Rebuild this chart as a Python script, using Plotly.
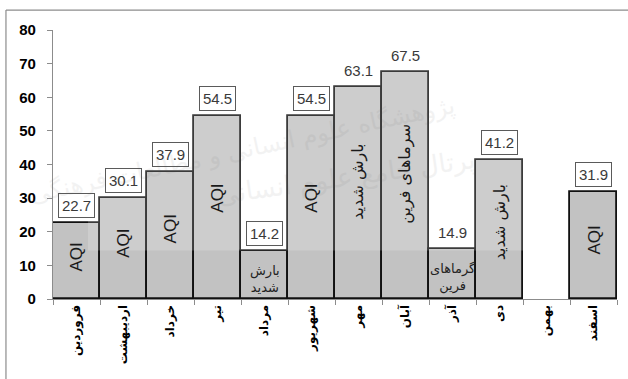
import plotly.graph_objects as go

# Monthly values (Persian calendar months)
months = ["فروردین", "اردیبهشت", "خرداد", "تیر", "مرداد", "شهریور",
          "مهر", "آبان", "آذر", "دی", "بهمن", "اسفند"]
values = [22.7, 30.1, 37.9, 54.5, 14.2, 54.5, 63.1, 67.5, 14.9, 41.2, None, 31.9]
# Cause written inside each bar
causes = ["AQI", "AQI", "AQI", "AQI", "بارش<br>شدید", "AQI",
          "بارش شدید", "سرماهای فرین", "گرماهای<br>فرین", "بارش شدید", None, "AQI"]
# Whether the cause text runs vertically inside the bar
cause_vertical = [True, True, True, True, False, True, True, True, False, True, False, True]
# Whether the value label is drawn inside a framed box
value_boxed = [True, True, True, True, True, True, False, False, False, True, False, True]
y_ticks = [0, 10, 20, 30, 40, 50, 60, 70, 80]

fig = go.Figure()
fig.add_trace(go.Bar(
    x=months, y=values, width=1.0,
    marker=dict(color="#c2c2c2", line=dict(color="#111111", width=1.8)),
    hoverinfo="x+y",
))

annotations = []
for m, v, c, vert, boxed in zip(months, values, causes, cause_vertical, value_boxed):
    if v is None:
        continue
    # value label above the bar
    lab = dict(x=m, y=v, text=f"{v:.1f}", showarrow=False, yanchor="bottom",
               font=dict(family="Liberation Sans, Arial", size=15, color="#3a3a3a"))
    if boxed:
        lab.update(bgcolor="white", bordercolor="#5a5a5a", borderwidth=1, borderpad=3, yshift=5)
    else:
        lab.update(yshift=6)
    annotations.append(lab)
    # cause text inside the bar
    if c is None:
        continue
    if vert:
        is_latin = c.isascii()
        annotations.append(dict(
            x=m, y=v * 0.55, text=c, showarrow=False, textangle=-90,
            font=dict(family="Liberation Sans, Arial" if is_latin else "DejaVu Sans",
                      size=17 if is_latin else 16, color="#1a1a1a"),
        ))
    else:
        annotations.append(dict(
            x=m, y=v * 0.42, text=c, showarrow=False,
            font=dict(family="DejaVu Sans", size=13, color="#222222"),
        ))

# faint institutional watermark
annotations += [
    dict(xref="paper", yref="paper", x=0.72, y=0.78, text="پژوهشگاه علوم انسانی و مطالعات فرهنگی",
         showarrow=False, textangle=-12, opacity=0.07,
         font=dict(family="DejaVu Sans", size=24, color="#555555")),
    dict(xref="paper", yref="paper", x=0.52, y=0.45, text="پرتال جامع علوم انسانی",
         showarrow=False, textangle=-8, opacity=0.07,
         font=dict(family="DejaVu Sans", size=26, color="#555555")),
]

shapes = [
    # light haze band of the watermark
    dict(type="rect", xref="paper", yref="paper", x0=0.062, x1=0.835, y0=0.18, y1=1.1,
         fillcolor="white", opacity=0.18, line=dict(width=0), layer="above"),
    # outer frame (top and left edges)
    dict(type="line", xref="paper", yref="paper", x0=-0.0834, x1=1.05, y0=1.074, y1=1.074,
         line=dict(color="#8c8c8c", width=1.2)),
    dict(type="line", xref="paper", yref="paper", x0=-0.0834, x1=-0.0834, y0=-0.4, y1=1.074,
         line=dict(color="#8c8c8c", width=1.2)),
]

fig.update_layout(
    width=628, height=379,
    margin=dict(l=53, r=11, t=30, b=80),
    paper_bgcolor="white", plot_bgcolor="white",
    showlegend=False, bargap=0,
    annotations=annotations, shapes=shapes,
)
fig.update_xaxes(
    type="category", tickson="boundaries", ticks="outside", ticklen=5,
    tickcolor="#8c8c8c", showline=True, linecolor="#8c8c8c", linewidth=1.2,
    tickangle=-90, showgrid=False,
    tickfont=dict(family="DejaVu Sans", size=12, color="black", weight="bold"),
)
fig.update_yaxes(
    range=[0, 80], tickvals=y_ticks, ticks="outside", ticklen=5,
    tickcolor="#8c8c8c", showline=True, linecolor="#8c8c8c", linewidth=1.2,
    showgrid=False, zeroline=False, ticklabelstandoff=8,
    tickfont=dict(family="Liberation Sans, Arial", size=15, color="black", weight="bold"),
)

fig.write_html("out.html")
